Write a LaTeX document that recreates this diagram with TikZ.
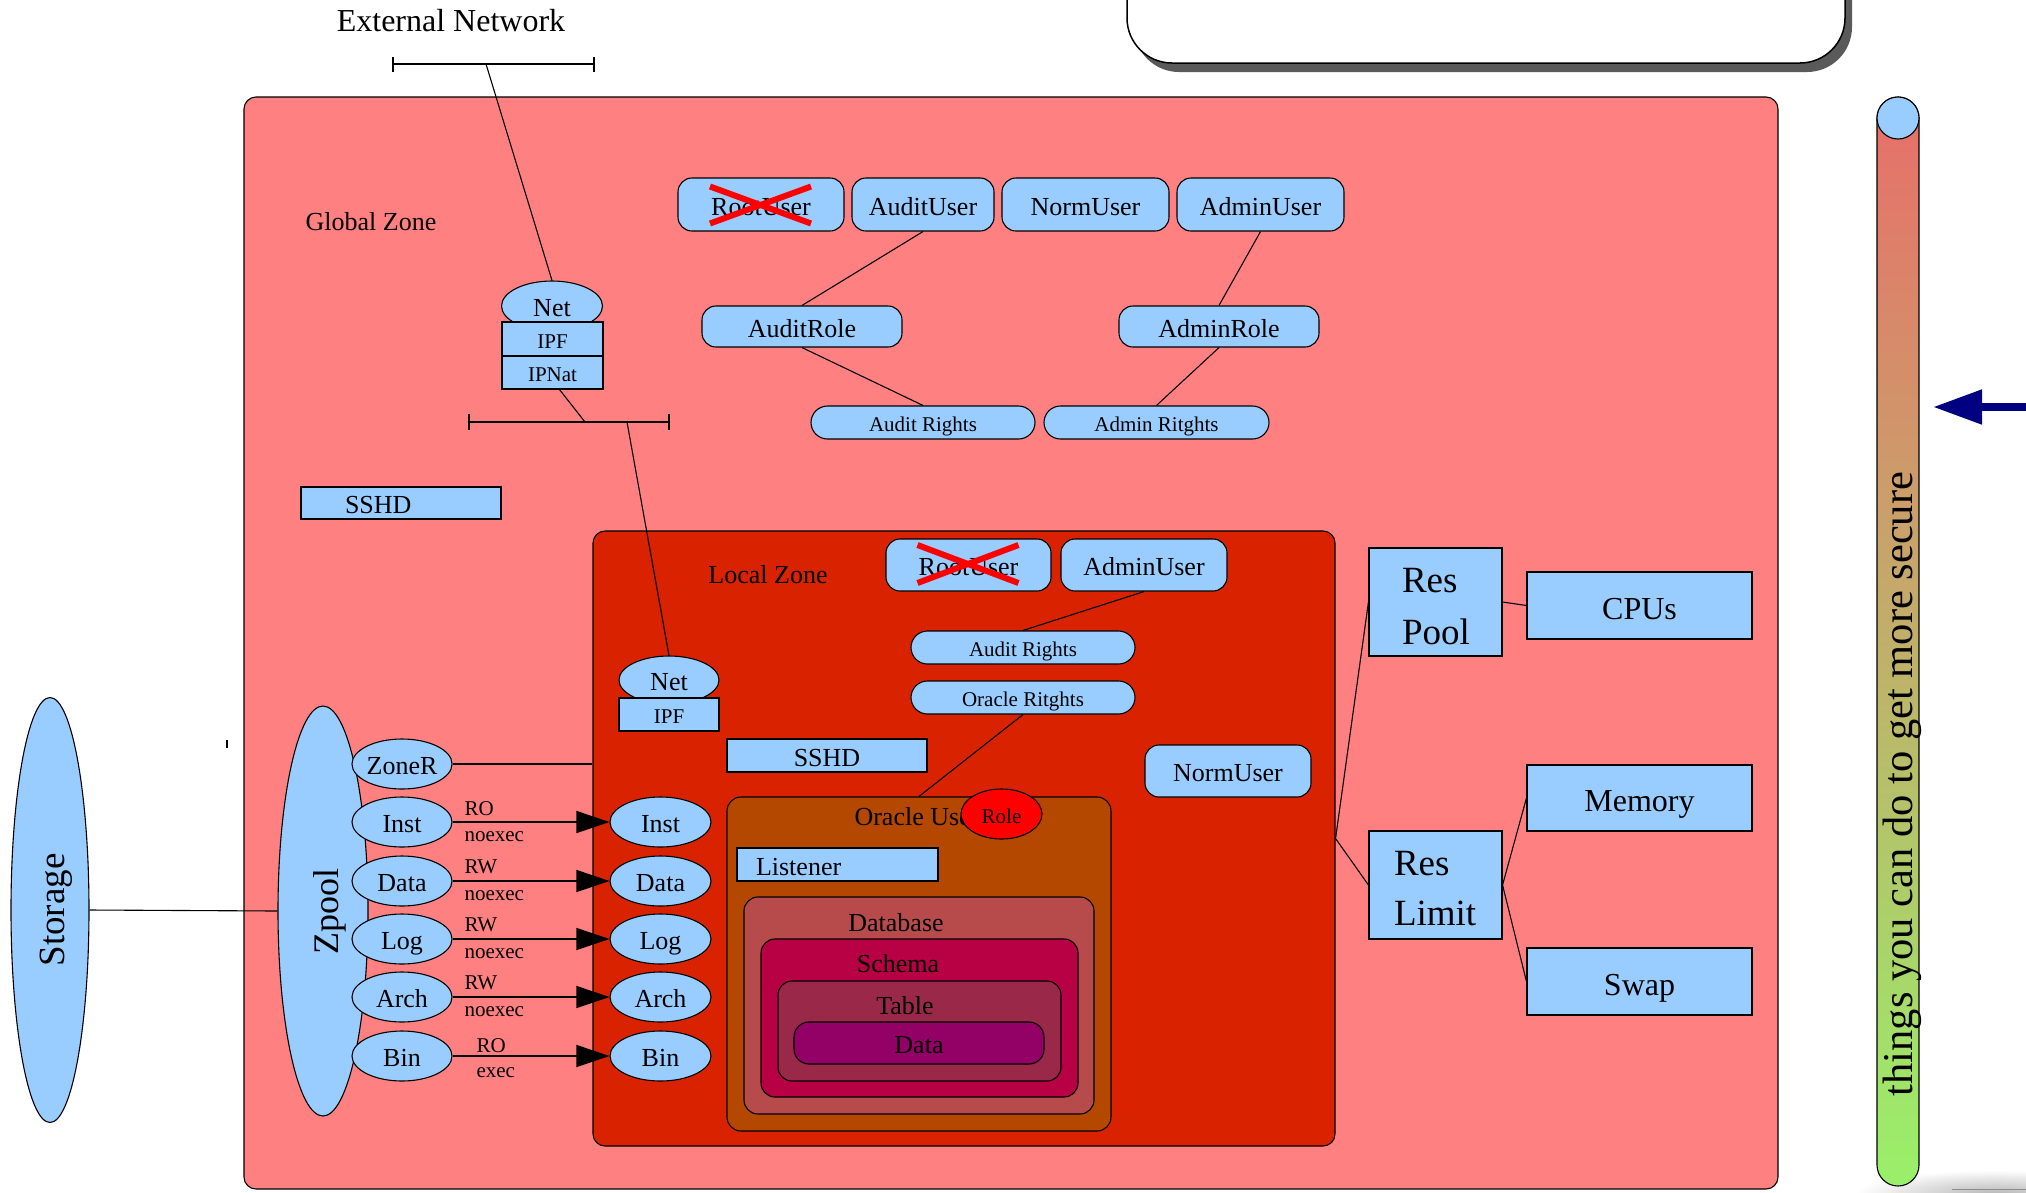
\documentclass[tikz,border=0pt]{standalone}
\usepackage{fontspec}
\setmainfont{Liberation Serif}
\usepackage{graphicx}
\usetikzlibrary{arrows.meta,shapes.geometric,calc}
\definecolor{lb}{HTML}{99CCFF}
\definecolor{gzc}{HTML}{FF8080}
\definecolor{lzc}{HTML}{D92300}
\definecolor{orcc}{HTML}{B54800}
\definecolor{dbc}{HTML}{B74A4A}
\definecolor{schc}{HTML}{B80045}
\definecolor{tabc}{HTML}{9A2849}
\definecolor{datc}{HTML}{930066}
\definecolor{bartop}{HTML}{E86E6A}
\definecolor{barbot}{HTML}{99F06A}
\definecolor{shd}{HTML}{5A5A5A}
\definecolor{navyc}{HTML}{000080}
\tikzset{
  f21/.style={font=\fontsize{21}{25}\selectfont},
  f26/.style={font=\fontsize{26}{31}\selectfont},
  f32/.style={font=\fontsize{32}{38}\selectfont},
  b21/.style={f21, text height=18.5pt, text depth=0pt},
  b26/.style={f26, text height=21.5pt, text depth=0pt},
  b32/.style={f32, text height=27pt, text depth=0pt},
  wh/.style 2 args={minimum width=#1pt, minimum height=#2pt},
  bx/.style={draw=black, line width=1.1pt, fill=lb, inner sep=0pt, text=black},
  ub/.style={bx, rectangle, rounded corners=14pt, b26},
  rb/.style={bx, rectangle, rounded corners=16.5pt, b21},
  sq/.style={bx, rectangle},
  el/.style={bx, ellipse},
  zone/.style={draw=black, line width=1.1pt, rectangle, inner sep=0pt},
  arr/.style={-{Triangle[length=33pt,width=22pt]}},
  cross/.style={red, line width=6pt},
  lab/.style={f21, anchor=base west, inner sep=0pt}
}
\begin{document}
\begin{tikzpicture}[x=1pt,y=-1pt,line width=1.1pt]
\clip (0,0) rectangle (2026,1192);
% top rounded box with shadow
\fill[shd, rounded corners=45pt] (1134,-80) rectangle (1852,72);
\draw[fill=white, rounded corners=45pt, line width=1.5pt] (1127,-80) rectangle (1845,63);

% global zone
\node[zone, fill=gzc, rounded corners=12pt, wh={1534}{1092}] (gz) at (1011,643) {};
\node[f26] (gzl) at (371,222) {Global Zone};

% external network
\node[f32] (ext) at (451,21) {External Network};
\coordinate (eb1) at (393,64);
\coordinate (eb2) at (594,64);
\coordinate (ebt) at (486,64);
\draw (eb1) -- (eb2);
\draw ($(eb1)+(0,-7)$) -- ($(eb1)+(0,8)$);
\draw ($(eb2)+(0,-7)$) -- ($(eb2)+(0,8)$);

% global net stack
\node[el, wh={101}{50}, b26] (gNet) at (552,306) {Net};
\node[sq, wh={101}{34}, b21] (gIPF) at (552.5,339) {IPF};
\node[sq, wh={101}{33}, b21] (gIPNat) at (552.5,372.5) {IPNat};
\draw (ebt) -- (gNet.north);

% internal bus
\coordinate (ib1) at (469,422);
\coordinate (ib2) at (669,422);
\coordinate (ibin) at (585,422);
\coordinate (ibout) at (627,422);
\draw (ib1) -- (ib2);
\draw ($(ib1)+(0,-8)$) -- ($(ib1)+(0,8)$);
\draw ($(ib2)+(0,-8)$) -- ($(ib2)+(0,8)$);
\draw ($(gIPNat.south)+(7,0)$) -- (ibin);

% global SSHD
\node[sq, wh={200}{32}, b26, text width=112pt, inner xsep=44pt, align=left] (gSSHD) at (401,503) {SSHD};

% global users
\node[ub, wh={166}{53}] (gRoot) at (761,204.5) {RootUser};
\node[ub, wh={142}{53}] (gAudit) at (923,204.5) {AuditUser};
\node[ub, wh={167}{53}] (gNorm) at (1085.5,204.5) {NormUser};
\node[ub, wh={167}{53}] (gAdmin) at (1260.5,204.5) {AdminUser};
\draw[cross] ($(gRoot.center)+(-51,-18)$) -- ($(gRoot.center)+(50,19)$);
\draw[cross] ($(gRoot.center)+(-51,19)$) -- ($(gRoot.center)+(50,-18)$);
\node[ub, wh={200}{41}] (gAuditRole) at (802,326.5) {AuditRole};
\node[ub, wh={200}{41}] (gAdminRole) at (1219,326.5) {AdminRole};
\node[rb, wh={224}{33}] (gAuditR) at (923,422.5) {Audit Rights};
\node[rb, wh={225}{33}] (gAdminR) at (1156.5,422.5) {Admin Ritghts};
\draw (gAudit.south) -- (gAuditRole.north);
\draw (gAuditRole.south) -- (gAuditR.north);
\draw (gAdmin.south) -- (gAdminRole.north);
\draw (gAdminRole.south) -- (gAdminR.north);

% local zone
\node[zone, fill=lzc, rounded corners=12pt, wh={742}{615}] (lz) at (964,838.5) {};
\node[f26] (lzl) at (768,575) {Local Zone};
\node[el, wh={100}{48}, b26] (lNet) at (669,680) {Net};
\node[sq, wh={100}{33}, b21] (lIPF) at (669,714.5) {IPF};
\draw (ibout) -- (lNet.north);
\node[sq, wh={200}{33}, b26] (lSSHD) at (827,755.5) {SSHD};
\node[ub, wh={165}{52}] (lRoot) at (968.5,565) {RootUser};
\node[ub, wh={166}{52}] (lAdmin) at (1144,565) {AdminUser};
\draw[cross] ($(lRoot.center)+(-51,-20)$) -- ($(lRoot.center)+(50,18)$);
\draw[cross] ($(lRoot.center)+(-51,18)$) -- ($(lRoot.center)+(50,-20)$);
\node[rb, wh={224}{33}] (lAuditR) at (1023,647.5) {Audit Rights};
\node[rb, wh={224}{33}] (lOraR) at (1023,697.5) {Oracle Ritghts};
\node[ub, wh={166}{52}] (lNorm) at (1228,771) {NormUser};
\draw (lAdmin.south) -- (lAuditR.north);

% oracle user and nested boxes
\node[zone, fill=orcc, rounded corners=14pt, wh={384}{334}] (orc) at (919,964) {};
\draw (lOraR.south) -- (orc.north);
\node[f26, anchor=west, inner sep=0pt] (orcl) at (854,817) {Oracle User};
\node[bx, ellipse, fill=red, wh={81}{50}, b21] (role) at (1001.5,814) {Role};
\node[sq, wh={201}{33}, b26, text width=163pt, inner xsep=19pt, align=left] (lis) at (837.5,864.5) {Listener};
\node[zone, fill=dbc, rounded corners=14pt, wh={350}{217}] (db) at (919,1005.5) {};
\node[f26] (dbl) at (896,923) {Database};
\node[zone, fill=schc, rounded corners=14pt, wh={317}{158}] (sch) at (919.5,1018) {};
\node[f26] (schl) at (898,964) {Schema};
\node[zone, fill=tabc, rounded corners=14pt, wh={283}{100}] (tab) at (919.5,1031) {};
\node[f26] (tabl) at (905,1006) {Table};
\node[zone, fill=datc, rounded corners=15pt, wh={250}{42}, b26] (dat) at (919,1043) {Data};

% storage and zpool
\node[el, wh={78}{425}] (st) at (50,910) {};
\node[font=\fontsize{37}{44}\selectfont, rotate=90, anchor=base, inner sep=0pt] (stl) at (64,910) {Storage};
\node[el, wh={90}{410}] (zp) at (323,911) {};
\node[font=\fontsize{36}{43}\selectfont, rotate=90, anchor=base, inner sep=0pt] (zpl) at (338,911) {Zpool};
\draw (st.east) -- (zp.west);
\coordinate (tk1) at (227,740);
\coordinate (tk2) at (227,748);
\draw[line width=2pt] (tk1) -- (tk2);

% zone resources
\node[el, wh={100}{50}, b26] (zr) at (402,764) {ZoneR};
\node[el, wh={100}{50}, b26] (li) at (402,822) {Inst};
\node[el, wh={100}{50}, b26] (ld) at (402,881) {Data};
\node[el, wh={100}{50}, b26] (ll) at (402,939) {Log};
\node[el, wh={100}{50}, b26] (la) at (402,997) {Arch};
\node[el, wh={100}{50}, b26] (lb) at (402,1056) {Bin};
\node[el, wh={101}{50}, b26] (ri) at (660.5,822) {Inst};
\node[el, wh={101}{50}, b26] (rd) at (660.5,881) {Data};
\node[el, wh={101}{50}, b26] (rl2) at (660.5,939) {Log};
\node[el, wh={101}{50}, b26] (ra) at (660.5,997) {Arch};
\node[el, wh={101}{50}, b26] (rbn) at (660.5,1056) {Bin};
\draw (zr.east) -- (zr.east -| lz.west);
\draw[arr] (li.east) -- (ri.west);
\draw[arr] (ld.east) -- (rd.west);
\draw[arr] (ll.east) -- (rl2.west);
\draw[arr] (la.east) -- (ra.west);
\draw[arr] (lb.east) -- (rbn.west);
\node[lab] (t1a) at (464,815) {RO};
\node[lab] (t1b) at (464,841) {noexec};
\node[lab] (t2a) at (464,873.5) {RW};
\node[lab] (t2b) at (464,900) {noexec};
\node[lab] (t3a) at (464,931.5) {RW};
\node[lab] (t3b) at (464,958) {noexec};
\node[lab] (t4a) at (464,989.5) {RW};
\node[lab] (t4b) at (464,1016) {noexec};
\node[lab] (t5a) at (476,1052) {RO};
\node[lab] (t5b) at (476,1077) {exec};

% resources right
\node[sq, wh={133}{108}, font=\fontsize{37}{52}\selectfont, text width=67pt, inner xsep=33pt, align=left, text height=20pt, text depth=40pt] (rp) at (1435.5,602) {Res\\Pool};
\node[sq, wh={133}{108}, font=\fontsize{37}{50}\selectfont, text width=83pt, inner xsep=25pt, align=left, text height=20pt, text depth=40pt] (rl) at (1435.5,885) {Res\\Limit};
\node[sq, wh={225}{67}, b32] (cpu) at (1639.5,605.5) {CPUs};
\node[sq, wh={225}{66}, b32] (mem) at (1639.5,798) {Memory};
\node[sq, wh={225}{67}, b32] (swp) at (1639.5,981.5) {Swap};
\draw (rp.west) -- (lz.east) -- (rl.west);
\draw (rp.east) -- (cpu.west);
\draw (rl.east) -- (mem.west);
\draw (rl.east) -- (swp.west);

% security bar
\shade[inner color=black!28, outer color=white] (1995,1194) ellipse [x radius=140, y radius=24];
\draw[black!45, line width=1pt] (1952,1189) -- (2026,1189);
\shade[top color=bartop, bottom color=barbot, draw=black, line width=1.1pt, rounded corners=21pt] (1877,97) rectangle (1919,1186);
\node[el, circle, minimum size=42pt] (cap) at (1898,118) {};
\node[font=\fontsize{42.5}{50}\selectfont, rotate=90, anchor=base, inner sep=0pt] (bart) at (1912,784) {things you can do to get more secure};
\coordinate (arS) at (2030,407);
\coordinate (arE) at (1933,407);
\draw[navyc, line width=8pt, -{Triangle[length=49pt,width=33pt]}] (arS) -- (arE);
\end{tikzpicture}
\end{document}
